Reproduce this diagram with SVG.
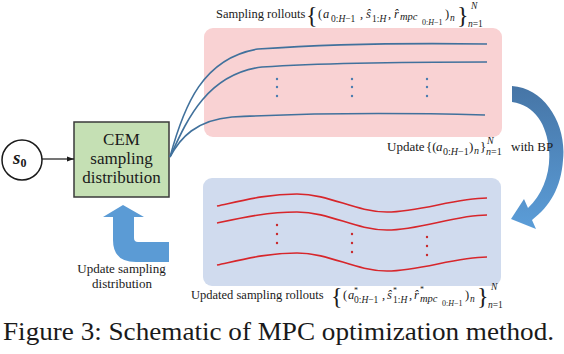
<svg xmlns="http://www.w3.org/2000/svg" width="564" height="354" viewBox="0 0 564 354">
<defs>
<marker id="ah" viewBox="0 0 10 10" refX="10" refY="5" markerWidth="7" markerHeight="7" orient="auto" markerUnits="userSpaceOnUse"><path d="M0,1.5 L10,5 L0,8.5 Z" fill="#1a1a1a"/></marker>
<linearGradient id="gr" x1="0" y1="0" x2="0" y2="1"><stop offset="0" stop-color="#4675a6"/><stop offset="1" stop-color="#5b9dd8"/></linearGradient>
</defs>

<g id="s0">
<circle cx="22" cy="160" r="20" fill="#fff" stroke="#1a1a1a" stroke-width="1.5"/>
<text x="13" y="164" font-family="Liberation Serif" font-size="19" font-style="italic" font-weight="bold" fill="#1a1a1a">s<tspan font-size="12" dy="3" font-style="normal">0</tspan></text>
</g>

<g id="cem">
<rect x="74" y="122" width="95" height="75" fill="#c5e0b4" stroke="#3a3a3a" stroke-width="1.5"/>
<text font-family="Liberation Serif" font-size="17" text-anchor="middle" fill="#1a1a1a"><tspan x="121.5" y="145">CEM</tspan><tspan x="121.5" y="164">sampling</tspan><tspan x="121.5" y="183">distribution</tspan></text>
</g>

<g id="sampling-rollouts">
<rect x="204" y="28" width="298" height="109" rx="9" fill="#f9d2d3"/>
<g fill="none" stroke="#41719c" stroke-width="1.6">
<path d="M170,157 C184,105 203,58 258,49 C330,44 420,43 487,44"/>
<path d="M170,157 C186,122 206,74 262,67 C340,62 430,62 487,62"/>
<path d="M170,157 C180,138 196,120 232,117 C310,113 410,113 485,115"/>
</g>
<g fill="#4a7cb0"><circle cx="277" cy="79" r="1.2"/><circle cx="277" cy="87" r="1.2"/><circle cx="277" cy="96" r="1.2"/><circle cx="352" cy="79" r="1.2"/><circle cx="352" cy="87" r="1.2"/><circle cx="352" cy="96" r="1.2"/><circle cx="427" cy="79" r="1.2"/><circle cx="427" cy="87" r="1.2"/><circle cx="427" cy="96" r="1.2"/></g>
<text font-family="Liberation Serif" font-size="12.5" fill="#1a1a1a" y="18"><tspan x="216">Sampling rollouts</tspan><tspan font-size="24" x="306" y="23">{</tspan><tspan x="318" y="18">(</tspan><tspan font-style="italic" x="323" y="18">a</tspan><tspan font-size="9.5" x="331" y="22">0:<tspan font-style="italic">H</tspan>−1</tspan><tspan x="360" y="18">,</tspan><tspan font-style="italic" x="366" y="18">ŝ</tspan><tspan font-size="9.5" x="372" y="22">1:<tspan font-style="italic">H</tspan></tspan><tspan x="388" y="18">,</tspan><tspan font-style="italic" x="394" y="18">r̂</tspan><tspan font-style="italic" font-size="10.5" x="400" y="20">mpc</tspan><tspan font-size="8" x="422" y="25">0:<tspan font-style="italic">H</tspan>−1</tspan><tspan x="445" y="18">)</tspan><tspan font-size="9.5" font-style="italic" x="450" y="21">n</tspan><tspan font-size="24" x="457" y="23">}</tspan><tspan font-size="9.5" font-style="italic" x="471" y="9">N</tspan><tspan font-size="9.5" x="468" y="27"><tspan font-style="italic">n</tspan>=1</tspan></text>
</g>

<g id="updated-rollouts">
<rect x="203" y="178" width="298" height="108" rx="9" fill="#d0dbee"/>
<g fill="none" stroke="#d7262b" stroke-width="1.6">
<path d="M217,206 C245,200 268,194 297,194 C330,194 355,212 387,212 C420,212 455,198 487,198"/>
<path d="M217,223 C245,217 268,212 297,212 C330,212 355,230 387,230 C420,230 455,215 487,215"/>
<path d="M217,265 C245,259 268,253 297,253 C330,253 355,271 387,271 C420,271 455,257 487,257"/>
</g>
<g fill="#c9282c"><circle cx="277" cy="225" r="1.2"/><circle cx="277" cy="234" r="1.2"/><circle cx="277" cy="243" r="1.2"/><circle cx="352" cy="234" r="1.2"/><circle cx="352" cy="243" r="1.2"/><circle cx="352" cy="252" r="1.2"/><circle cx="427" cy="237" r="1.2"/><circle cx="427" cy="246" r="1.2"/><circle cx="427" cy="255" r="1.2"/></g>
<text font-family="Liberation Serif" font-size="12.5" fill="#1a1a1a" y="299"><tspan x="191">Updated sampling rollouts</tspan><tspan font-size="24" x="331" y="304">{</tspan><tspan x="343" y="299">(</tspan><tspan font-style="italic" x="348" y="299">a</tspan><tspan font-size="8" x="354" y="293">*</tspan><tspan font-size="9.5" x="354" y="303">0:<tspan font-style="italic">H</tspan>−1</tspan><tspan x="382" y="299">,</tspan><tspan font-style="italic" x="387" y="299">ŝ</tspan><tspan font-size="8" x="393" y="293">*</tspan><tspan font-size="9.5" x="393" y="303">1:<tspan font-style="italic">H</tspan></tspan><tspan x="409" y="299">,</tspan><tspan font-style="italic" x="414" y="299">r̂</tspan><tspan font-size="8" x="420" y="292">*</tspan><tspan font-style="italic" font-size="10.5" x="420" y="302">mpc</tspan><tspan font-size="8" x="442" y="306">0:<tspan font-style="italic">H</tspan>−1</tspan><tspan x="465" y="299">)</tspan><tspan font-size="9.5" font-style="italic" x="470" y="302">n</tspan><tspan font-size="24" x="477" y="304">}</tspan><tspan font-size="9.5" font-style="italic" x="491" y="290">N</tspan><tspan font-size="9.5" x="488" y="308"><tspan font-style="italic">n</tspan>=1</tspan></text>
</g>

<g id="update-bp">
<path d="M512,86 C545,88 567,125 563,160 C561,188 550,206 532,220 L536,229 L511,219 L524,199 L528,208 C543,194 551,172 549,150 C547,125 535,105 512,102 Z" fill="url(#gr)"/>
<text font-family="Liberation Serif" font-size="13" fill="#1a1a1a" y="151"><tspan x="387">Update</tspan><tspan x="426">{(</tspan><tspan font-style="italic" x="436">a</tspan><tspan font-size="10" x="443" y="155">0:<tspan font-style="italic">H</tspan>−1</tspan><tspan x="469" y="151">)</tspan><tspan font-size="10" font-style="italic" x="474" y="154">n</tspan><tspan x="480" y="151">}</tspan><tspan font-size="10" font-style="italic" x="487" y="144">N</tspan><tspan font-size="10" x="486" y="155"><tspan font-style="italic">n</tspan>=1</tspan><tspan x="511" y="151">with BP</tspan></text>
</g>

<g id="update-sampling">
<path d="M123,205 L144,217 L134,217 L134,238 Q134,242 138,242 L169,242 L169,262 L136,262 Q113,262 113,240 L113,217 L103,217 Z" fill="#5b9bd5"/>
<text font-family="Liberation Serif" font-size="13" text-anchor="middle" fill="#1a1a1a"><tspan x="121.5" y="273">Update sampling</tspan><tspan x="122" y="288">distribution</tspan></text>
</g>

<g id="connectors">
<line x1="42" y1="159" x2="74" y2="159" stroke="#1a1a1a" stroke-width="1.2" marker-end="url(#ah)"/>
</g>

<text id="caption" font-family="Liberation Serif" fill="#1a1a1a" x="3" y="340" font-size="25" textLength="551" lengthAdjust="spacingAndGlyphs">Figure 3: Schematic of MPC optimization method.</text>
</svg>
